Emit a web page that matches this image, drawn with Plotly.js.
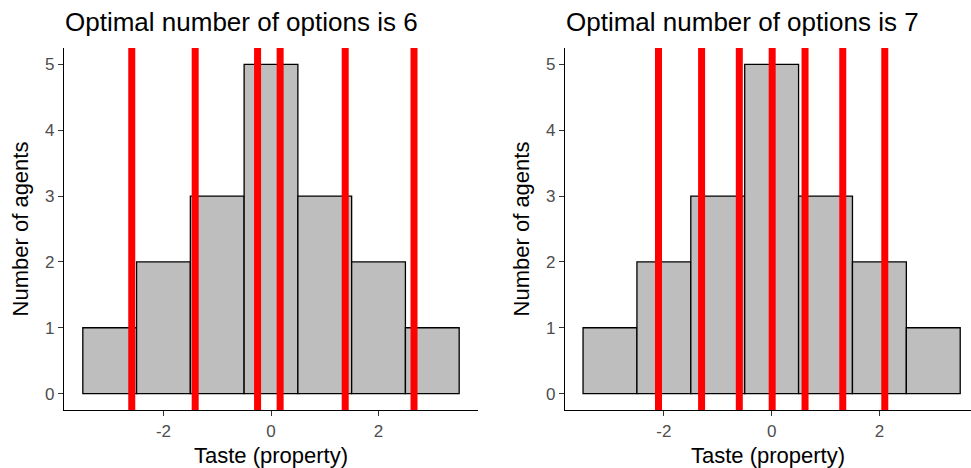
<!DOCTYPE html>
<html>
<head>
<meta charset="utf-8">
<script src="https://cdn.plot.ly/plotly-3.0.1.min.js"></script>
<style>html,body{margin:0;padding:0;background:#fff;overflow:hidden}#chart{width:971px;height:468px}</style>
</head>
<body>
<div id="chart"></div>
<script>
// Data
var tasteBins = [-3, -2, -1, 0, 1, 2, 3];
var agentCounts = [1, 2, 3, 5, 3, 2, 1];
var optionsPanel1 = [-2.59, -1.41, -0.25, 0.17, 1.38, 2.66];
var optionsPanel2 = [-2.10, -1.30, -0.60, 0.01, 0.62, 1.32, 2.10];
var titles = ["Optimal number of options is 6", "Optimal number of options is 7"];
var xTitle = "Taste (property)";
var yTitle = "Number of agents";

var W = 971, H = 468;
var FONT = "Liberation Sans, Arial, sans-serif";

function barTrace(xa, ya) {
  return {
    type: "bar", x: tasteBins, y: agentCounts, width: 1,
    xaxis: xa, yaxis: ya,
    marker: {color: "#BEBEBE", line: {color: "#000000", width: 1.3}},
    hoverinfo: "x+y", showlegend: false
  };
}

function vlines(vals, xref) {
  return vals.map(function (v) {
    return {
      type: "line", xref: xref, yref: (xref === "x" ? "y" : "y2") + " domain",
      x0: v, x1: v, y0: 0, y1: 1,
      line: {color: "#FF0000", width: 7}, layer: "above"
    };
  });
}

var yDom = [(H - 410) / H, (H - 48) / H];

function xaxisDef(domain, range, anchor) {
  return {
    domain: domain, range: range, anchor: anchor,
    showline: true, linecolor: "#000", linewidth: 1.2,
    ticks: "outside", ticklen: 5, tickcolor: "#333", tickwidth: 1,
    tickvals: [-2, 0, 2], ticktext: ["-2", "0", "2"],
    tickfont: {family: FONT, size: 17, color: "#4D4D4D"},
    showgrid: false, zeroline: false,
    title: {text: xTitle, font: {family: FONT, size: 22, color: "#000"}, standoff: 9}
  };
}
function yaxisDef(anchor) {
  return {
    domain: yDom, range: [-0.25, 5.25], anchor: anchor,
    showline: true, linecolor: "#000", linewidth: 1.2,
    ticks: "outside", ticklen: 5, tickcolor: "#333", tickwidth: 1,
    tickvals: [0, 1, 2, 3, 4, 5],
    tickfont: {family: FONT, size: 17, color: "#4D4D4D"},
    showgrid: false, zeroline: false,
    title: {text: yTitle, font: {family: FONT, size: 22, color: "#000"}, standoff: 10}
  };
}

var layout = {
  width: W, height: H,
  margin: {l: 0, r: 0, t: 0, b: 0},
  paper_bgcolor: "#fff", plot_bgcolor: "#fff",
  bargap: 0, showlegend: false,
  font: {family: FONT},
  xaxis: xaxisDef([64 / W, 478 / W], [-3.85, 3.85], "y"),
  yaxis: yaxisDef("x"),
  xaxis2: xaxisDef([565 / W, 1], [-3.835, 3.70], "y2"),
  yaxis2: yaxisDef("x2"),
  shapes: vlines(optionsPanel1, "x").concat(vlines(optionsPanel2, "x2")),
  annotations: [
    {text: titles[0], xref: "paper", yref: "paper", x: 63 / W, y: (H - 22) / H,
     xanchor: "left", yanchor: "middle", showarrow: false,
     font: {family: FONT, size: 26, color: "#000"}},
    {text: titles[1], xref: "paper", yref: "paper", x: 564 / W, y: (H - 22) / H,
     xanchor: "left", yanchor: "middle", showarrow: false,
     font: {family: FONT, size: 26, color: "#000"}}
  ]
};

Plotly.newPlot("chart", [barTrace("x", "y"), barTrace("x2", "y2")], layout,
  {staticPlot: true, displayModeBar: false});
</script>
</body>
</html>
